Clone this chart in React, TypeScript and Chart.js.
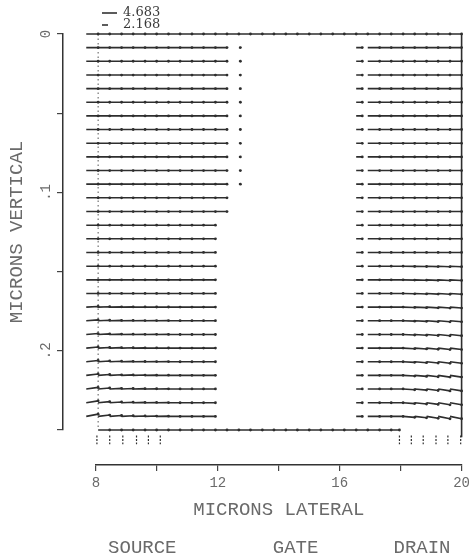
import React, { useEffect, useRef } from 'react';
import { Chart, registerables } from 'chart.js';

Chart.register(...registerables);

// ---------------- data ----------------
// depth (microns) of each row of vectors, top (surface) to bottom
const rowDepths = [
  0.0, 0.0086, 0.0172, 0.0259, 0.0345, 0.0431, 0.0517, 0.0603, 0.069, 0.0776,
  0.0862, 0.0948, 0.1034, 0.1121, 0.1207, 0.1293, 0.1379, 0.1466, 0.1552, 0.1638,
  0.1724, 0.181, 0.1897, 0.1983, 0.2069, 0.2155, 0.2241, 0.2328, 0.2414, 0.25,
];

// lateral grid columns (microns) where vectors start
const gridX = [
  7.68, 8.07, 8.45, 8.84, 9.22, 9.61, 9.99, 10.38, 10.76, 11.15, 11.53, 11.92,
  12.3, 12.69, 13.07, 13.46, 13.84, 14.23, 14.61, 15.0, 15.38, 15.77, 16.15,
  16.54, 16.92, 17.31, 17.69, 18.08, 18.46, 18.85, 19.23, 19.62,
];
const deviceRight = 20.0;

// source-side block extent per row
const sourceStart = [
  7.68, 7.68, 7.68, 7.68, 7.68, 7.68, 7.68, 7.68, 7.68, 7.68,
  7.68, 7.68, 7.68, 7.68, 7.68, 7.68, 7.68, 7.68, 7.68, 7.68,
  7.68, 7.68, 7.68, 7.68, 7.68, 7.68, 7.68, 7.68, 7.68, 8.07,
];
const sourceEnd = [
  20.0, 12.3, 12.3, 12.3, 12.3, 12.3, 12.3, 12.3, 12.3, 12.3,
  12.3, 12.3, 12.3, 12.3, 11.92, 11.92, 11.92, 11.92, 11.92, 11.92,
  11.92, 11.92, 11.92, 11.92, 11.92, 11.92, 11.92, 11.92, 11.92, 17.96,
];
// tiny vectors under the gate edge
const gateDotX = 12.69;
const gateDotU = [
  0, 0.05, 0.05, 0.05, 0.05, 0.05, 0.05, 0.05, 0.05, 0.05,
  0.05, 0.05, 0, 0, 0, 0, 0, 0, 0, 0,
  0, 0, 0, 0, 0, 0, 0, 0, 0, 0,
];
// drain-side block start per row (null = none)
const drainStart = [
  null, 16.54, 16.54, 16.54, 16.54, 16.54, 16.54, 16.54, 16.54, 16.54,
  16.54, 16.54, 16.54, 16.54, 16.54, 16.54, 16.54, 16.54, 16.54, 16.54,
  16.54, 16.54, 16.54, 16.54, 16.54, 16.54, 16.54, 16.54, 16.54, null,
];
const drainFirstU = 0.2;

// vertical components (microns) near the contacts
const drainTilt = [
  0, 0, 0, 0, 0, 0, 0, 0, 0, 0,
  0, 0, 0, 0, 0, 0, 0, 0.0003, 0.0004, 0.0005,
  0.0006, 0.0007, 0.0008, 0.0009, 0.001, 0.0011, 0.0012, 0.0013, 0.0015, 0,
];
const drainWeight = [
  0, 0, 0, 0, 0, 0, 0, 0, 0, 0, 0, 0, 0, 0, 0, 0,
  0, 0, 0, 0, 0, 0, 0, 0, 0, 0, 0, 0.4, 0.6, 0.8, 1.0, 1.0,
];
const sourceTilt = [
  0, 0, 0, 0, 0, 0, 0, 0, 0, 0,
  0, 0, 0, 0, 0, 0, 0, 0, 0, 0,
  -0.0004, -0.0005, -0.0006, -0.0007, -0.0008, -0.0009, -0.001, -0.0012, -0.0014, 0,
];
const sourceWeight = [
  1.0, 0.6, 0.4, 0.3, 0.2, 0.15, 0.1, 0, 0, 0, 0, 0, 0, 0, 0, 0,
  0, 0, 0, 0, 0, 0, 0, 0, 0, 0, 0, 0, 0, 0, 0, 0,
];

// vertical vectors at the contacts
const sourceContactX = [8.03, 8.45, 8.88, 9.33, 9.72, 10.11];
const drainContactX = [17.96, 18.35, 18.74, 19.16, 19.55, 19.97];
const contactDepths = [0.2535, 0.259];

// source edge (dashed) and right edge of device
const sourceEdgeX = 8.07;
const edgeDepths = [0, 0.25];
const rightEdgeDepths = [0, 0.2545];

// axes
const xTickValues = [8, 10, 12, 14, 16, 18, 20];
const xTickLabels = ['8', '', '12', '', '16', '', '20'];
const yTickValues = [0, 0.05, 0.1, 0.15, 0.2, 0.25];
const yTickLabels = ['0', '', '.1', '', '.2', ''];
const regionPositions = [9.52, 14.55, 18.7];
const regionNames = ['SOURCE', 'GATE', 'DRAIN'];

// vector-length key
const keyLabels = ['4.683', '2.168'];

// ---------------- style ----------------
const MONO = '"Liberation Mono", "DejaVu Sans Mono", monospace';
const INK = '#2e2e2e';
const TEXT = '#6a6a6a';

function buildRow(r: number) {
  const d = rowDepths[r];
  const pts: any[] = [];
  const push = (x0: number, x1: number, v: number) => {
    pts.push({ x: x0, y: d }, { x: x1, y: d + v }, { x: x1, y: null });
  };
  gridX.forEach((gx, c) => {
    const next = c + 1 < gridX.length ? gridX[c + 1] : deviceRight;
    const v = sourceTilt[r] * sourceWeight[c] + drainTilt[r] * drainWeight[c];
    const ds = drainStart[r];
    if (gx >= sourceStart[r] - 1e-9 && gx < sourceEnd[r] - 1e-9) {
      push(gx, Math.min(next, sourceEnd[r]), v);
    } else if (ds !== null && gx >= ds - 1e-9) {
      push(gx, Math.abs(gx - ds) < 1e-9 ? gx + drainFirstU : next, v);
    }
  });
  if (gateDotU[r] > 0) push(gateDotX, gateDotX + gateDotU[r], 0);
  return pts;
}

const headRadius = (ctx: any) => (ctx.dataIndex % 3 === 1 ? 1.4 : 0);

const keyPlugin = {
  id: 'vectorKey',
  afterDraw(chart: any) {
    const { ctx, chartArea } = chart;
    const lens = [15, 6];
    ctx.save();
    ctx.strokeStyle = '#333';
    ctx.fillStyle = '#3a3a3a';
    ctx.lineWidth = 1.6;
    ctx.font = '13px "DejaVu Serif", "Liberation Serif", serif';
    ctx.textBaseline = 'middle';
    ctx.textAlign = 'left';
    keyLabels.forEach((lab, i) => {
      const y = chartArea.top - 21 + i * 12;
      const x0 = chartArea.left + 6;
      ctx.beginPath();
      ctx.moveTo(x0, y);
      ctx.lineTo(x0 + lens[i], y);
      ctx.stroke();
      ctx.fillText(lab, chartArea.left + 27, y);
    });
    ctx.restore();
  },
};

export default function App() {
  const ref = useRef<HTMLCanvasElement>(null);

  useEffect(() => {
    const canvas = ref.current;
    if (!canvas) return;

    const base = {
      showLine: true,
      borderColor: INK,
      backgroundColor: INK,
      borderWidth: 1.6,
      pointRadius: headRadius,
      pointHoverRadius: 0,
      pointBorderWidth: 0,
      spanGaps: false,
      clip: false as any,
      xAxisID: 'x',
      yAxisID: 'y',
    };

    const datasets: any[] = rowDepths.map((_, r) => ({
      ...base,
      label: 'row ' + r,
      data: buildRow(r),
    }));

    const contactPts: any[] = [];
    [...sourceContactX, ...drainContactX].forEach((cx) => {
      contactPts.push(
        { x: cx, y: contactDepths[0] },
        { x: cx, y: contactDepths[1] },
        { x: cx, y: null },
      );
    });
    datasets.push({ ...base, label: 'contacts', data: contactPts, borderWidth: 1.2, borderDash: [2, 1.5] });

    datasets.push({
      ...base,
      label: 'source edge',
      data: edgeDepths.map((y) => ({ x: sourceEdgeX, y })),
      pointRadius: 0,
      borderWidth: 1,
      borderColor: '#555',
      borderDash: [1.5, 3],
    });
    datasets.push({
      ...base,
      label: 'right edge',
      data: rightEdgeDepths.map((y) => ({ x: deviceRight, y })),
      pointRadius: 0,
      borderWidth: 1.6,
    });

    const tickFont = { family: MONO, size: 14 };
    const titleFont = { family: MONO, size: 19 };

    const chart = new Chart(canvas, {
      type: 'scatter',
      data: { datasets },
      options: {
        responsive: false,
        animation: false,
        devicePixelRatio: 1,
        events: [],
        layout: { padding: { top: 34, right: 8, bottom: 0, left: 0 } },
        plugins: { legend: { display: false }, tooltip: { enabled: false } },
        scales: {
          x: {
            type: 'linear',
            position: 'bottom',
            weight: 1,
            min: 8,
            max: 20,
            afterFit: (s: any) => { s.height = 57; },
            afterBuildTicks: (s: any) => { s.ticks = xTickValues.map((v) => ({ value: v })); },
            ticks: {
              autoSkip: false,
              maxRotation: 0,
              padding: 4,
              color: TEXT,
              font: tickFont,
              callback: (_v: any, i: number) => xTickLabels[i],
            },
            grid: { display: true, drawOnChartArea: false, drawTicks: true, tickLength: 6, color: '#444', lineWidth: 1.2 },
            border: { display: true, color: '#333', width: 1.5 },
            title: { display: true, text: 'MICRONS LATERAL', color: TEXT, font: titleFont, padding: { top: 0, bottom: 1 } },
          },
          xs: {
            type: 'linear',
            position: 'bottom',
            weight: 0,
            afterFit: (s: any) => { s.height = 35; },
            ticks: { display: false },
            grid: { display: false },
            border: { display: false },
          },
          xr: {
            type: 'linear',
            position: 'bottom',
            weight: 2,
            min: 8,
            max: 20,
            afterFit: (s: any) => { s.height = 33; },
            afterBuildTicks: (s: any) => { s.ticks = regionPositions.map((v) => ({ value: v })); },
            ticks: {
              autoSkip: false,
              maxRotation: 0,
              padding: 7,
              color: TEXT,
              font: titleFont,
              callback: (_v: any, i: number) => regionNames[i],
            },
            grid: { display: false },
            border: { display: false },
          },
          y: {
            type: 'linear',
            position: 'left',
            weight: 1,
            reverse: true,
            min: 0,
            max: 0.25,
            afterFit: (s: any) => { s.width = 63; },
            afterBuildTicks: (s: any) => { s.ticks = yTickValues.map((v) => ({ value: v })); },
            ticks: {
              autoSkip: false,
              minRotation: 90,
              maxRotation: 90,
              crossAlign: 'center',
              padding: 2,
              color: TEXT,
              font: tickFont,
              callback: (_v: any, i: number) => yTickLabels[i],
            },
            grid: { display: true, drawOnChartArea: false, drawTicks: true, tickLength: 6, color: '#444', lineWidth: 1.2 },
            border: { display: true, color: '#333', width: 1.5 },
            title: { display: true, text: 'MICRONS VERTICAL', color: TEXT, font: titleFont, padding: { top: 6, bottom: 0 } },
          },
          ys: {
            type: 'linear',
            position: 'left',
            weight: 0,
            afterFit: (s: any) => { s.width = 33; },
            ticks: { display: false },
            grid: { display: false },
            border: { display: false },
          },
        } as any,
      },
      plugins: [keyPlugin],
    });

    return () => chart.destroy();
  }, []);

  return (
    <div style={{ position: 'absolute', left: 0, top: 0, width: 474, height: 555, background: '#fff' }}>
      <canvas ref={ref} width={474} height={555} style={{ display: 'block' }} />
    </div>
  );
}
